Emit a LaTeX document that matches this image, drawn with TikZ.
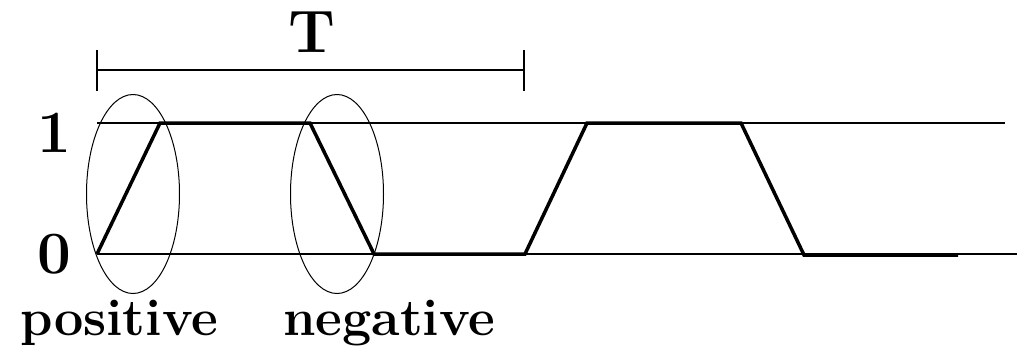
\documentclass[tikz,border=0pt]{standalone}
\usetikzlibrary{shapes.geometric}
\begin{document}
\begin{tikzpicture}[x=1pt,y=-1pt,
  level/.style={line width=1.2pt},
  wave/.style={line width=3.5pt, line join=miter},
  lbl/.style={font=\fontsize{52}{52}\selectfont\bfseries, inner sep=0pt},
  big/.style={font=\fontsize{60}{60}\selectfont\bfseries, inner sep=0pt},
  ring/.style={draw, ellipse, line width=1pt, minimum width=93pt, minimum height=199pt, inner sep=0pt}]
\useasboundingbox (0,0) rectangle (1017,354);
% levels
\coordinate (l1a) at (97,123);
\coordinate (l1b) at (1005,123);
\coordinate (l0a) at (97,254);
\coordinate (l0b) at (1017,254);
\draw[level] (l1a) -- (l1b);
\draw[level] (l0a) -- (l0b);
% period bracket
\coordinate (ta) at (97,70);
\coordinate (tb) at (524,70);
\coordinate (ta1) at (97,50);
\coordinate (ta2) at (97,91);
\coordinate (tb1) at (524,50);
\coordinate (tb2) at (524,91);
\draw[level] (ta) -- (tb);
\draw[level] (ta1) -- (ta2);
\draw[level] (tb1) -- (tb2);
\node[big, anchor=base] (T) at (312,52) {T};
% level labels
\node[big, anchor=base] (one) at (54,152) {1};
\node[big, anchor=base] (zero) at (54,273) {0};
% waveform
\coordinate (w0) at (97,254);
\coordinate (w1) at (160,123);
\coordinate (w2) at (310,123);
\coordinate (w3) at (374,254);
\coordinate (w4) at (525,254);
\coordinate (w5) at (587,123);
\coordinate (w6) at (741,123);
\coordinate (w7) at (804,255);
\coordinate (w8) at (958,255);
\draw[wave] (w0) -- (w1) -- (w2) -- (w3) -- (w4) -- (w5) -- (w6) -- (w7) -- (w8);
% edge rings
\node[ring] (pos) at (133,194) {};
\node[ring] (neg) at (337,194) {};
\node[lbl, anchor=base west] (posl) at (20,335) {positive};
\node[lbl, anchor=base west] (negl) at (283,335) {negative};
\end{tikzpicture}
\end{document}
